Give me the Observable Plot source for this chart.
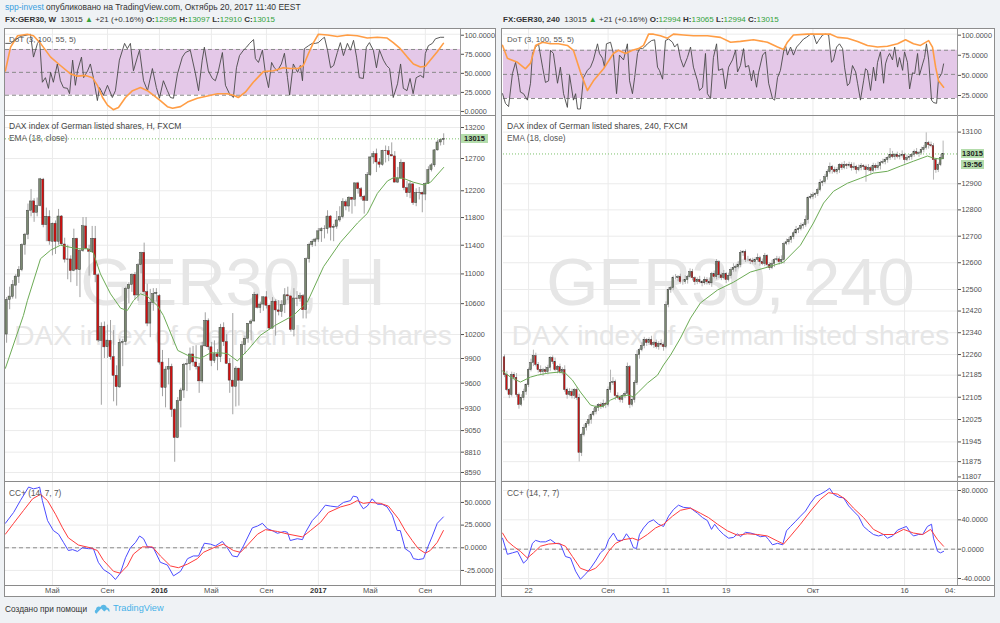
<!DOCTYPE html>
<html lang="ru">
<head>
<meta charset="utf-8">
<script src="https://cdn.jsdelivr.net/npm/d3@7"></script>
<script src="https://cdn.jsdelivr.net/npm/@observablehq/plot@0.6"></script>
<style>
html,body{margin:0;padding:0}
body{width:1000px;height:623px;overflow:hidden;position:relative;background:#eff2f5;font-family:"Liberation Sans",Arial,sans-serif;color:#333}
.t{position:absolute;white-space:nowrap}
.chart{position:absolute;top:28px;height:569px;background:#fff;border:1px solid #8d8d8d;box-sizing:border-box}
.pn{position:absolute;left:0;overflow:hidden}
.pn svg{max-width:none !important}
.sep{position:absolute;left:0;height:1px;background:#8a8a8a}
.vsep{position:absolute;top:0;width:1px;height:556px;background:#9a9a9a}
.lbl{position:absolute;font-size:8px;color:#555;white-space:nowrap}
.pbox{position:absolute;height:9px;line-height:9px;font-size:7.5px;font-weight:bold;color:#222;background:#b3dcab;text-align:center}
.g{color:#34a23a}
</style>
</head>
<body>
<div class="t" style="left:5px;top:2px;font-size:8.5px"><span style="color:#3a9fe0">spp-invest</span> опубликовано на TradingView.com, Октябрь 20, 2017 11:40 EEST</div>
<div class="t" style="left:5px;top:15px;font-size:8px"><b>FX:GER30, W</b>&nbsp; 13015 <span class="g">▲</span> +21 (+0.16%) <b>O:</b><span class="g">12995</span> <b>H:</b><span class="g">13097</span> <b>L:</b><span class="g">12910</span> <b>C:</b><span class="g">13015</span></div>
<div class="t" style="left:503px;top:15px;font-size:8px"><b>FX:GER30, 240</b>&nbsp; 13015 <span class="g">▲</span> +21 (+0.16%) <b>O:</b><span class="g">12994</span> <b>H:</b><span class="g">13065</span> <b>L:</b><span class="g">12994</span> <b>C:</b><span class="g">13015</span></div>
<div id="L" class="chart" style="left:4px;width:492px"></div>
<div id="R" class="chart" style="left:501px;width:494px"></div>
<div class="t" style="left:5px;top:604px;font-size:8.3px;color:#333">Создано при помощи</div>
<svg class="t" style="left:94px;top:603px" width="16" height="11" viewBox="0 0 16 11"><path d="M3 10.5C0.6 10.5 0 7.4 2.1 6.4C1.9 3.6 5 2.6 6.5 4.1C7.6 1 12.2 1 12.7 4.6C15.1 4.7 16.2 7.3 15.2 9L13 6.3L10.2 8.6L7.2 5.4L3.4 9.6Z" fill="#5ab8e6"/></svg>
<div class="t" style="left:113px;top:603px;font-size:9.2px;color:#45b1e8">TradingView</div>
<script>
// ---------- weekly (left) candles, week 0 = 19 Jan 2015 ----------
const wO = [10200,10650,10690,10840,10960,11050,11400,11550,11900,12040,
11870,11970,12370,11690,11810,11450,11710,11450,11815,11410,
11200,11200,11040,11490,11050,11316,11670,11340,11300,11490,
10980,10120,10300,10040,10120,9916,9690,9550,10096,10104,
10795,10850,10988,10708,11120,11293,10752,10340,10608,10728,
10700,9850,9545,9764,9798,9286,8967,9388,9513,9824,
9831,9950,9851,9794,9622,10051,10373,10039,9870,9952,
9917,10287,10103,9834,9631,9557,9776,9630,10066,10147,
10337,10367,10713,10544,10588,10684,10573,10276,10626,10511,
10491,10580,10711,10696,10259,10668,10664,10700,10513,11203,
11404,11450,11481,11599,11629,11630,11814,11651,11666,11757,
11804,12027,11963,12095,12064,12313,12225,12109,12049,12438,
12717,12770,12638,12602,12823,12816,12752,12733,12325,12389,
12632,12240,12163,12298,12014,12165,12168,12143,12304,12519,
12592,12829,12956,12995];
const wH = [10680,10820,10910,10990,11100,11420,11570,12000,12220,12080,
12090,12390,12390,11940,11900,11720,11750,11920,11830,11500,
11400,11250,11630,11500,11340,11800,11800,11400,11670,11670,
11000,10350,10360,10320,10380,10250,9810,10140,10140,10820,
10880,11000,11020,11140,11300,11430,10860,10790,10800,10800,
10720,10000,9800,9900,9830,9300,9430,9540,9840,9890,
10030,10050,10060,9840,10100,10480,10400,10100,10120,10010,
10330,10350,10200,9900,10470,9800,9780,10110,10180,10340,
10390,10750,10730,10620,10690,10760,10580,10680,10650,10640,
10640,10800,10820,10700,10800,10760,10740,10720,11220,11430,
11480,11500,11640,11650,11680,11900,11830,11700,11890,11960,
12080,12060,12110,12100,12320,12330,12250,12130,12480,12730,
12810,12850,12700,12830,12900,12890,12950,12810,12560,12680,
12640,12340,12350,12310,12230,12250,12180,12320,12570,12620,
12840,12990,13000,13097];
const wL = [10090,10520,10660,10660,10870,11030,11260,11480,11810,11730,
11810,11960,11650,11450,11400,11250,11270,11400,11390,11150,
10920,10880,11030,10830,10680,11300,11340,10970,11290,10880,
10100,9340,9900,9900,9880,9380,9330,9540,9800,10060,
10600,10750,10650,10630,11000,10720,10300,10160,10500,10620,
9820,9440,9310,9580,9200,8700,8960,9080,9420,9500,
9750,9800,9760,9480,9600,10040,10000,9800,9840,9750,
9850,10050,9830,9480,9230,9320,9330,9620,9950,10090,
10120,10360,10530,10470,10500,10530,10260,10270,10180,10440,
10420,10470,10640,10230,10170,10560,10620,10400,10400,11150,
11370,11380,11440,11440,11490,11560,11460,11450,11630,11730,
11780,11900,11880,11850,11960,12150,12060,11850,12040,12420,
12610,12480,12550,12580,12630,12650,12730,12320,12310,12380,
12200,12100,12080,11980,11960,12060,11870,12050,12300,12490,
12560,12820,12900,12910];
const wC = [10649,10694,10846,10963,11050,11402,11551,11901,12039,11868,
11967,12375,11689,11811,11454,11709,11447,11815,11413,11197,
11197,11040,11492,11058,11316,11673,11347,11308,11490,10985,
10124,10298,10038,10123,9916,9688,9553,10096,10104,10795,
10850,10988,10708,11119,11293,10752,10340,10608,10728,10743,
9849,9545,9764,9798,9286,8967,9388,9513,9824,9831,
9950,9851,9794,9622,10051,10373,10039,9870,9952,9917,
10287,10103,9834,9631,9557,9776,9630,10066,10147,10337,
10367,10713,10544,10588,10684,10573,10276,10626,10511,10491,
10580,10711,10696,10259,10668,10664,10700,10513,11203,11404,
11450,11481,11599,11629,11630,11814,11651,11666,11757,11804,
12027,11963,12095,12064,12313,12225,12109,12049,12438,12717,
12770,12638,12602,12823,12816,12752,12733,12325,12389,12632,
12240,12163,12298,12014,12165,12168,12143,12304,12519,12592,
12829,12956,12992,13015];
// EMA(18): [week, value]
const emaWk = [[-0.4,9780],[5.5,10445],[6.8,10640],[11.1,11210],[14.4,11330],[17.6,11400],[23.2,11350],[26.5,11350],[28.4,11290],[30.7,11000],[34,10730],[37.3,10540],[39.5,10510],[41.5,10640],[43.8,10730],[46,10700],[49.4,10570],[51.3,10445],[56,10000],[59.2,9940],[63.4,9900],[66.7,9970],[70,9970],[72.3,9960],[75.5,9870],[78.8,10000],[83,10190],[88,10320],[93.8,10445],[98.4,10620],[103.7,11100],[109.2,11440],[114.8,11720],[118,11860],[121.3,12160],[124.6,12350],[126.6,12400],[129.8,12390],[133.1,12330],[136.4,12290],[138.7,12330],[143,12560]];
// DoT (3,100,55,5): [week, value]
const dotWk = [[-0.3,88],[1.3,88],[4.5,97],[7.8,100],[8.8,70],[10.1,88],[10.8,92],[11.7,37],[12.7,43],[13.7,29],[14.4,50],[15.3,37],[16.6,61],[17.6,39],[18.6,30],[19.9,29],[20.6,22],[21.6,66],[22.5,33],[23.2,52],[24.5,70],[25.2,43],[26.5,52],[27.4,61],[28.4,43],[29.7,13],[30.4,30],[31.7,20],[33,33],[34.6,17],[35.6,26],[36.9,66],[38.6,88],[39.5,81],[40.5,88],[41.5,52],[42.8,70],[43.5,79],[44.8,39],[46.1,26],[47.7,55],[49,30],[50,16],[51.3,39],[52.6,26],[53.6,17],[54.6,16],[55.9,48],[57.5,70],[58.5,76],[60.1,79],[61.8,48],[62.8,26],[64,66],[64.7,83],[66,52],[67.3,42],[68.3,39],[69.3,52],[70.6,76],[71.6,33],[72.9,22],[74.2,17],[75.2,56],[76.2,72],[77.5,79],[78.5,83],[79.5,88],[80.8,93],[81.4,68],[82.4,63],[83.7,79],[84.7,48],[85.7,30],[86.7,63],[87.6,56],[88.6,52],[89.9,61],[90.9,75],[91.9,43],[92.6,20],[93.8,61],[95.2,50],[96.1,59],[96.8,39],[97.4,81],[98.8,85],[100,88],[101,88],[102,89],[103.3,94],[104,96],[105,79],[106,56],[107,59],[108.2,76],[109.2,89],[110.2,72],[111.5,88],[112.5,79],[113.5,92],[114.5,70],[115.4,43],[116.7,42],[117.7,83],[118.7,89],[120,79],[121,56],[122,79],[123.3,66],[124.3,59],[125.3,55],[126.5,17],[127.9,35],[128.9,61],[129.8,29],[131,26],[132,42],[133,22],[134,43],[135.4,46],[136.4,43],[137,75],[138,85],[139.3,88],[140.3,94],[141.9,96],[143,96]];
const dotWkSig = [[-0.4,52],[1.3,83],[3.6,98],[6.8,100],[8.8,98],[11.1,88],[14.4,70],[17.6,59],[20.9,48],[23.2,45],[25.8,46],[28.1,43],[29.7,33],[31.4,17],[33,7],[34.9,1],[36.6,4],[38.9,17],[41.2,26],[43.8,30],[46.1,26],[48,20],[50.3,13],[52.6,5],[54.3,3],[56.9,5],[59.2,11],[62.4,16],[65.7,19],[69,22],[72.2,22],[74.2,20],[75.8,17],[78.1,24],[80.7,37],[84,51],[87.3,52],[90.5,56],[92.8,55],[95.4,55],[97.1,59],[98.8,75],[100.4,89],[102,100],[105,99],[108.2,97],[111.5,99],[114.7,98],[118,95],[121.3,96],[124.5,95],[126.5,89],[128.8,81],[131.1,70],[133.1,61],[135.4,57],[137,58],[138.6,66],[140.9,77],[142.9,88]];
// CC+ (14,7,7): [week, value]
const ccWkFast = [[-0.4,27],[2.3,39],[4.5,52],[7.2,67],[8.8,65],[10.1,66],[10.8,67],[11.7,52],[13.4,30],[15.3,19],[17,15],[18.6,6],[20.2,-3],[21.6,-2],[23.2,-4],[24.8,0],[26.8,-1],[28.4,-1],[30,-16],[31.7,-24],[34,-29],[35.6,-35],[37.2,-28],[38.9,-11],[40.5,0],[42.2,6],[43.5,13],[44.8,10],[46.1,1],[48,0],[50.3,-16],[52.6,-19],[54.6,-31],[56.9,-26],[59.2,-12],[61.1,-9],[62.8,-9],[64.7,5],[66.7,4],[68.3,2],[70.6,7],[72.2,0],[73.9,-9],[75.5,-10],[77.5,2],[80.4,22],[82.1,24],[83.7,27],[85.3,21],[86.9,19],[88.6,16],[90.9,18],[91.9,17],[92.8,8],[95.1,10],[96.8,9],[97.8,17],[100,30],[102,37],[104.3,47],[105.9,46],[108.2,45],[110.2,50],[112.5,52],[113.4,57],[114.7,56],[115.7,48],[116.7,43],[118,46],[119.6,54],[121.3,48],[122.9,48],[124.5,45],[126.2,36],[127.8,19],[128.8,19],[130.4,-1],[132.1,-5],[133.1,-12],[134.7,-13],[136.4,-12],[137.7,0],[139.3,13],[140.9,27],[142.9,34]];
const ccWkSlow = [[-0.4,15],[2.3,27],[5.5,41],[8.5,54],[11.1,59],[13.4,52],[16,37],[18.3,22],[20.2,11],[23.5,3],[27.4,0],[29.7,-3],[31.7,-14],[35,-26],[37.2,-28],[39.5,-20],[41.5,-7],[44.4,1],[47.7,1],[50.3,-9],[53.6,-20],[56.2,-22],[59.2,-18],[62.4,-12],[64.4,-5],[67.7,0],[70.9,4],[74.2,-3],[76.5,-5],[79.1,4],[82.1,15],[84.7,20],[88.6,18],[92.2,15],[96.8,12],[99.4,19],[102.7,28],[105.3,39],[109.2,45],[112.5,48],[114.7,52],[116.7,49],[119,50],[122.3,49],[124.9,46],[128.2,32],[130.4,19],[132.7,8],[134.7,-1],[137,-6],[138.6,-3],[140.9,6],[142.9,19]];
const wkTicks = [15,33,50,67,85,102,119,137];
const wkTickText = ["Май","Сен","2016","Май","Сен","2017","Май","Сен"];
const wkTickBold = [false,false,true,false,false,true,false,false];
const wkPriceTicks = [8590,8810,9050,9300,9600,9900,10200,10600,11000,11400,11800,12200,12700,13200];

// ---------- 240-minute (right) candles, bar 0 = 17 Aug 2017 late session ----------
const hO = [12250,12185,12131,12113,12185,12175,12113,12077,12102,12124,
12149,12203,12229,12254,12222,12203,12196,12203,12196,12211,
12247,12233,12203,12214,12196,12203,12131,12113,12124,12109,
12131,12102,11906,11970,11995,12009,12023,12041,12052,12066,
12077,12070,12081,12077,12131,12156,12160,12109,12102,12095,
12109,12117,12214,12077,12095,12156,12258,12276,12291,12313,
12302,12313,12295,12302,12287,12298,12295,12287,12442,12498,
12505,12542,12542,12546,12527,12527,12535,12546,12565,12542,
12527,12535,12527,12523,12535,12527,12523,12557,12546,12602,
12553,12542,12557,12535,12550,12572,12580,12583,12591,12636,
12640,12610,12610,12606,12602,12610,12617,12602,12595,12625,
12591,12580,12595,12610,12613,12602,12610,12670,12677,12685,
12696,12711,12723,12727,12738,12742,12761,12845,12849,12856,
12860,12875,12902,12906,12925,12945,12964,12952,12945,12952,
12972,12960,12972,12968,12972,12960,12964,12952,12960,12968,
12964,12952,12960,12949,12968,12960,12968,12980,12983,12991,
12999,13011,13003,13011,13003,13007,13011,12991,12999,13003,
13011,13022,13015,13018,13030,13038,13057,13049,13045,12991,
12952,12972,12994];
const hH = [12258,12199,12137,12196,12194,12191,12120,12114,12134,12154,
12211,12243,12276,12265,12231,12219,12210,12215,12221,12252,
12255,12247,12220,12225,12212,12219,12138,12136,12134,12136,
12139,12116,11976,12006,12018,12039,12048,12064,12076,12082,
12085,12095,12087,12142,12203,12176,12167,12121,12112,12114,
12125,12229,12220,12106,12165,12274,12283,12303,12323,12318,
12321,12327,12308,12313,12307,12314,12302,12454,12508,12510,
12550,12556,12552,12557,12536,12551,12553,12577,12575,12547,
12543,12549,12533,12546,12544,12543,12564,12569,12612,12607,
12561,12571,12563,12561,12581,12596,12590,12603,12646,12645,
12648,12624,12616,12617,12619,12633,12624,12614,12635,12630,
12599,12609,12616,12624,12622,12626,12677,12689,12695,12701,
12719,12737,12733,12749,12751,12777,12852,12861,12866,12865,
12883,12916,12912,12936,12954,12980,12971,12964,12962,12977,
12980,12986,12978,12983,12981,12980,12971,12972,12978,12973,
12972,12974,12966,12979,12977,12984,12987,12995,13001,13004,
13036,13025,13017,13022,13016,13027,13018,13011,13013,13016,
13030,13036,13024,13041,13047,13097,13064,13061,13055,12996,
12980,13013,13065];
const hL = [12176,12125,12100,12106,12164,12105,12062,12071,12092,12112,
12140,12197,12216,12215,12192,12188,12181,12190,12186,12199,
12224,12197,12190,12189,12185,12123,12098,12107,12099,12097,
12093,11874,11893,11963,11984,12001,12008,12035,12042,12054,
12061,12064,12064,12070,12120,12148,12094,12096,12085,12083,
12100,12111,12064,12070,12084,12148,12243,12270,12281,12290,
12293,12289,12282,12280,12276,12287,12272,12281,12432,12486,
12496,12536,12529,12520,12516,12519,12520,12540,12532,12515,
12518,12521,12510,12516,12516,12515,12508,12540,12536,12541,
12533,12536,12522,12528,12539,12564,12565,12577,12581,12624,
12601,12604,12593,12595,12591,12602,12587,12589,12585,12579,
12571,12574,12582,12603,12591,12594,12595,12664,12667,12673,
12687,12705,12710,12720,12727,12734,12746,12839,12839,12844,
12851,12869,12889,12899,12914,12937,12937,12939,12935,12940,
12951,12954,12955,12961,12949,12952,12937,12946,12950,12952,
12906,12946,12936,12942,12949,12952,12953,12974,12973,12979,
12990,12997,12990,12996,12992,12999,12976,12985,12989,12991,
13002,13009,13002,13011,13019,13030,13034,13039,12914,12940,
12943,12966,12994];
const hC = [12185,12131,12113,12185,12175,12113,12077,12102,12124,12149,
12203,12229,12254,12222,12203,12196,12203,12196,12211,12247,
12233,12203,12214,12196,12203,12131,12113,12124,12109,12131,
12102,11906,11970,11995,12009,12023,12041,12052,12066,12077,
12070,12081,12077,12131,12156,12160,12109,12102,12095,12109,
12117,12214,12077,12095,12156,12258,12276,12291,12313,12302,
12313,12295,12302,12287,12298,12295,12287,12442,12498,12505,
12542,12542,12546,12527,12527,12535,12546,12565,12542,12527,
12535,12527,12523,12535,12527,12523,12557,12546,12602,12553,
12542,12557,12535,12550,12572,12580,12583,12591,12636,12640,
12610,12610,12606,12602,12610,12617,12602,12595,12625,12591,
12580,12595,12610,12613,12602,12610,12670,12677,12685,12696,
12711,12723,12727,12738,12742,12761,12845,12849,12856,12860,
12875,12902,12906,12925,12945,12964,12952,12945,12952,12972,
12960,12972,12968,12972,12960,12964,12952,12960,12968,12964,
12952,12960,12949,12968,12960,12968,12980,12983,12991,12999,
13011,13003,13011,13003,13007,13011,12991,12999,13003,13011,
13022,13015,13018,13030,13038,13057,13049,13045,12991,12952,
12972,12999,13015];
const emaH = [[-0.8,12200],[2.5,12178],[6.6,12160],[10.8,12178],[13.7,12185],[17.8,12192],[22.4,12196],[25.3,12192],[28.2,12167],[31.5,12124],[35.7,12077],[38.6,12070],[41.1,12073],[44,12095],[46.9,12106],[51.5,12113],[53.5,12106],[55.6,12124],[59.3,12156],[63.5,12185],[66,12222],[68.9,12258],[73,12320],[77.2,12394],[81.3,12450],[88.4,12498],[95,12527],[102,12565],[109,12583],[115.8,12602],[122.8,12666],[128.2,12750],[132.4,12826],[136.5,12871],[142.3,12902],[147.7,12921],[153.1,12941],[158.9,12948],[164.3,12968],[169.7,12987],[175.5,13007],[178,12999],[180.9,12995],[182,12999]];
const dotH = [[-0.8,26],[0.4,14],[1.7,10],[3.3,51],[4.6,65],[5.8,46],[6.6,28],[7.9,26],[9.5,18],[10.8,39],[11.6,76],[12.9,84],[14.1,88],[15.8,59],[17,40],[18.3,42],[19.1,80],[20.3,76],[22,39],[23.2,59],[24.5,26],[26.1,9],[27,49],[28.6,18],[29.5,26],[30.3,7],[31.5,7],[32.8,46],[34.4,55],[35.7,59],[36.9,68],[38.6,88],[39.4,76],[40.7,70],[41.5,59],[42.3,88],[44,90],[45.2,76],[46.5,26],[47.7,74],[49.4,68],[51,88],[51.9,42],[53.1,26],[54,46],[55.2,76],[56,82],[57.3,82],[58.1,84],[59.3,88],[61,92],[62.3,93],[63.5,59],[64.3,55],[65.6,44],[66.8,92],[68.1,94],[69.7,90],[70.6,84],[71.8,88],[73,70],[74.3,59],[75.9,71],[77.2,84],[78.4,59],[80.1,42],[80.9,30],[82.2,34],[83.4,76],[84.2,26],[85.5,20],[86.7,71],[88,88],[88.8,55],[90.5,57],[91.7,32],[93,59],[94.6,68],[95.9,80],[96.7,53],[97.9,61],[99.2,82],[100,59],[101.3,61],[102.5,42],[103.3,55],[104.6,34],[105.4,52],[107.1,74],[108.3,78],[109.6,39],[111.2,20],[112.1,18],[113.3,46],[114.5,55],[115.8,78],[116.6,86],[117.4,74],[118.7,84],[119.9,74],[121.2,84],[122.4,88],[124.1,94],[125.3,96],[127,100],[128.2,100],[129.5,88],[130.3,92],[132,99],[133.2,100],[134.5,99],[135.7,65],[136.5,68],[137.8,84],[139,88],[140.3,82],[141.1,59],[142.3,36],[143.2,39],[144.4,61],[145.7,53],[146.5,39],[147.7,18],[149,42],[149.8,57],[150.6,55],[151.9,30],[153.1,59],[154,42],[154.8,65],[156,78],[157.3,39],[158.1,63],[158.9,71],[159.8,76],[161,68],[161.9,84],[163.1,59],[163.9,71],[165.2,55],[166,78],[167.2,65],[168.1,32],[169.3,52],[170.2,51],[171.4,76],[172.2,49],[173.5,63],[174.3,71],[175.1,88],[176,68],[177.2,18],[178,15],[179.3,14],[180.1,45],[181.4,51],[182.2,63]];
const dotHSig = [[-0.8,86],[1.2,70],[5.4,65],[8.7,57],[10.8,64],[12.9,86],[15.8,90],[19.1,88],[22.4,88],[26.1,86],[28.6,80],[31.5,53],[34.4,30],[36.9,42],[41.1,57],[45.2,76],[47.3,80],[50.2,76],[53.1,80],[55.6,82],[57.7,86],[59.8,100],[61.8,100],[64.7,98],[67.6,95],[70.1,100],[74.3,99],[78.4,98],[84.2,98],[89.6,96],[93.8,90],[97.9,91],[103.3,93],[109.1,90],[113.3,84],[115.8,81],[117.4,90],[119.9,99],[125.7,100],[131.1,100],[135.3,100],[138.2,96],[142.3,95],[146.5,91],[150.6,86],[154.8,84],[158.9,85],[163.1,88],[166.4,93],[169.7,88],[172.6,86],[176,92],[177.6,84],[178.9,59],[180.1,42],[182.2,34]];
const ccHFast = [[-0.8,15],[1.2,-7],[3.3,-5],[5.4,-3],[7.9,-19],[9.5,-14],[11.6,8],[12.9,12],[14.9,10],[17,10],[19.1,13],[21.2,8],[23.2,7],[25.3,-10],[27.4,-12],[29.5,-30],[31.5,-41],[33.6,-34],[35.7,-26],[37.8,-16],[39.8,-5],[41.9,1],[43.2,13],[45.2,22],[46.9,12],[49,12],[50.6,21],[51.9,15],[53.5,2],[54.8,1],[56,20],[57.7,29],[59.8,37],[61.8,40],[63.9,34],[66,31],[68.1,45],[70.1,54],[72.2,60],[74.3,57],[77.2,56],[80.1,49],[82.2,43],[84.2,39],[85.9,27],[87.2,34],[88.8,27],[90.9,20],[93,15],[95,16],[96.7,21],[97.9,17],[100,23],[102.1,22],[104.2,20],[106.2,17],[108.3,18],[109.6,13],[111.2,6],[113.3,8],[115.4,6],[117,25],[118.7,31],[120.8,38],[122.8,45],[124.9,52],[127,63],[129.1,72],[131.1,75],[133.2,79],[134.9,83],[136.5,75],[138.6,71],[140.7,70],[142.8,59],[144.8,52],[146.9,45],[149,31],[151.1,25],[153.1,20],[155.2,18],[157.3,20],[158.9,15],[161,18],[163.1,26],[165.2,29],[166.8,31],[168.5,22],[169.7,18],[171.8,20],[173.5,20],[175.5,31],[177.2,34],[178,15],[179.7,-3],[180.9,-5],[182.2,-3]];
const ccHSlow = [[-0.8,22],[1.2,11],[3.7,4],[6.6,-3],[9.5,-12],[12,-5],[14.9,4],[18.3,7],[22.4,8],[25.3,4],[28.2,-10],[31.5,-26],[34.9,-30],[37.8,-26],[40.7,-16],[43.2,-3],[46.1,8],[49.4,13],[53.1,15],[55.6,12],[59.3,20],[62.7,29],[66,34],[69.7,45],[73,53],[77.2,56],[81.3,49],[84.7,43],[88.4,34],[92.5,25],[96.7,19],[100.8,21],[105,20],[109.1,18],[113.3,11],[115.8,7],[118.7,18],[122.8,34],[127,52],[131.1,68],[134.5,77],[138.2,75],[141.5,68],[144.8,56],[149,43],[153.1,27],[157.3,20],[161.4,20],[165.6,27],[169.7,22],[173.5,20],[176.8,27],[179.7,13],[182.2,4]];
const hTicks = [10,43,67,92,128,166,185];
const hTickText = ["22","Сен","11","19","Окт","16","04:"];
const hTickBold = [false,false,false,false,false,false,false];
const hPriceTicks = [11875,11945,12025,12105,12185,12260,12340,12420,12500,12600,12700,12800,12900,13100];
const hEdgeTicks = [11807];

const dotBand = [[20, 80]];
const dotLevels = [20, 50, 80];
const dotTicksL = [0, 25, 50, 75, 100];
const dotTicksR = [25, 50, 75, 100];
const ccTicksL = [-25, 0, 25, 50];
const ccTicksR = [-40, 0, 40, 80];
const lastPrice = 13015;
const countdown = "19:56";

// ---------- drawing ----------
const FONT = '"Liberation Sans", Arial, Helvetica, sans-serif';
const col = {up:"#7b8a72", down:"#d0100f", edge:"#3a3a3a", wick:"#a2a2a2", ema:"#6cab55",
  dot:"#484848", sig:"#ff9d45", fast:"#4b4bff", slow:"#ff3c3c", grid:"#ebebeb",
  band:"#e4c8e8", lvl:"#8a8a8a", wm:"#e6e6e6"};

function panel(host, top, h, w, ml, mr, xd, ytype, yd, marks, clipW) {
  const div = document.createElement("div");
  div.className = "pn";
  div.style.top = top + "px";
  div.style.height = h + "px";
  div.style.width = (clipW || w) + "px";
  const fig = Plot.plot({
    width: w, height: h, marginTop: 0, marginBottom: 0, marginLeft: ml, marginRight: mr,
    x: {domain: xd, axis: null},
    y: {type: ytype, domain: yd, axis: null},
    style: {background: "transparent", color: "#505050", fontSize: "7.3px", fontFamily: FONT, overflow: "visible", maxWidth: "none"},
    marks
  });
  div.appendChild(fig);
  host.appendChild(div);
  return fig;
}
const yAxis = (ticks, fmt, dy) => Plot.axisY(ticks, {anchor: "right", tickSize: 3, tickPadding: 1, tickFormat: fmt, dy: dy || 0});
const f4 = d => d.toFixed(4);
const px = d => d[0], py = d => d[1];

function build(host, w, ml, mr, xd, o) {
  const xt = o.ticks.slice(0, o.gridN);
  // DoT
  panel(host, 0, 86, w, ml, mr, xd, "linear", o.dotDom, [
    Plot.gridY(o.dotTicks, {stroke: col.grid, strokeOpacity: 1}),
    Plot.gridX(xt, {stroke: col.grid, strokeOpacity: 1}),
    Plot.rect(dotBand, {x1: () => xd[0], x2: () => xd[1], y1: d => d[0], y2: d => d[1], fill: col.band}),
    Plot.ruleY(dotLevels, {stroke: col.lvl, strokeDasharray: "4,3"}),
    Plot.line(o.dot, {x: px, y: py, stroke: col.dot, strokeWidth: 0.9}),
    Plot.line(o.sig, {x: px, y: py, stroke: col.sig, strokeWidth: 1.6}),
    yAxis(o.dotTicks, f4, o.dotDy)
  ]);
  // price
  const bars = o.C.map((c, i) => ({i, o: o.O[i], h: o.H[i], l: o.L[i], c}));
  const priceMarks = [
    Plot.gridY(o.priceTicks.concat(o.edgeTicks), {stroke: col.grid, strokeOpacity: 1}),
    Plot.gridX(xt, {stroke: col.grid, strokeOpacity: 1}),
    Plot.text([o.wm], {text: d => d, frameAnchor: "middle", fontSize: 67, fill: col.wm, dy: -15}),
    Plot.text([o.wmSub], {text: d => d, frameAnchor: "middle", fontSize: 28, fill: col.wm, dy: 38}),
    Plot.ruleY([lastPrice], {stroke: "#7cc16b", strokeDasharray: "1,2"}),
    Plot.ruleX(bars, {x: "i", y1: "l", y2: "h", stroke: col.wick, strokeWidth: o.wickW}),
    Plot.rect(bars, {x1: d => d.i - o.half, x2: d => d.i + o.half, y1: "o", y2: "c",
      fill: d => d.c >= d.o ? col.up : col.down, stroke: col.edge, strokeWidth: 0.45}),
    Plot.line(o.ema, {x: px, y: py, stroke: col.ema, strokeWidth: 1}),
    yAxis(o.priceTicks, d => String(d))
  ];
  if (o.edgeTicks.length) priceMarks.push(yAxis(o.edgeTicks, d => String(d), -4));
  const fig = panel(host, 86, 366, w, ml, mr, xd, "log", o.priceDom, priceMarks);
  // CC+
  panel(host, 453, 103, w, ml, mr, xd, "linear", o.ccDom, [
    Plot.gridY(o.ccTicks, {stroke: col.grid, strokeOpacity: 1}),
    Plot.gridX(xt, {stroke: col.grid, strokeOpacity: 1}),
    Plot.ruleY([0], {stroke: col.lvl, strokeDasharray: "4,3"}),
    Plot.line(o.fast, {x: px, y: py, stroke: col.fast, strokeWidth: 1}),
    Plot.line(o.slow, {x: px, y: py, stroke: col.slow, strokeWidth: 1}),
    yAxis(o.ccTicks, f4)
  ]);
  // time axis
  const idx = o.ticks.map((_, i) => i);
  panel(host, 556, 11, w, ml, mr, xd, "linear", [0, 1], [
    Plot.text(idx.filter(i => !o.bold[i]), {x: i => o.ticks[i], text: i => o.labels[i], frameAnchor: "middle", fontSize: 7.5, fill: "#505050"}),
    Plot.text(idx.filter(i => o.bold[i]), {x: i => o.ticks[i], text: i => o.labels[i], frameAnchor: "middle", fontSize: 7.5, fontWeight: "bold", fill: "#333"})
  ], w - mr);
  // chrome: separators
  for (const t of [86, 452, 556]) {
    const s = document.createElement("div"); s.className = "sep";
    s.style.top = t + "px"; s.style.width = w + "px"; host.appendChild(s);
  }
  const v = document.createElement("div"); v.className = "vsep";
  v.style.left = (w - mr) + "px"; host.appendChild(v);
  // titles
  const titles = [[6, o.dotTitle, 8], [92, o.priceTitle, 8.5], [104, "EMA (18, close)", 8.3], [459, "CC+ (14, 7, 7)", 8.3]];
  for (const [t, s, fs] of titles) {
    const d = document.createElement("div"); d.className = "lbl";
    d.style.left = (ml + 4) + "px"; d.style.top = t + "px"; d.style.fontSize = fs + "px";
    if (t === 92) d.style.color = "#444";
    d.textContent = s; host.appendChild(d);
  }
  // last-price tags positioned through the y scale
  const yy = fig.scale("y").apply(lastPrice);
  const tags = [String(lastPrice)].concat(o.extraTag ? [o.extraTag] : []);
  tags.forEach((s, k) => {
    const b = document.createElement("div"); b.className = "pbox";
    b.style.left = (w - mr + o.tagDx) + "px"; b.style.width = o.tagW + "px";
    b.style.top = (86 + yy - 4.5 + k * 11) + "px";
    b.textContent = s; host.appendChild(b);
  });
}

build(document.getElementById("L"), 490, 0, 35, [-0.36, 148.5], {
  O: wO, H: wH, L: wL, C: wC, ema: emaWk, dot: dotWk, sig: dotWkSig, fast: ccWkFast, slow: ccWkSlow,
  ticks: wkTicks, labels: wkTickText, bold: wkTickBold, gridN: wkTicks.length,
  priceTicks: wkPriceTicks, edgeTicks: [], priceDom: [8494, 13399], dotTicks: dotTicksL, dotDom: [-6.6, 106.2], dotDy: 1,
  ccTicks: ccTicksL, ccDom: [-41.6, 72], half: 0.36, wickW: 1,
  wm: "GER30, H", wmSub: "DAX index of German listed shares",
  dotTitle: "DoT (3, 100, 55, 5)", priceTitle: "DAX index of German listed shares, H, FXCM",
  tagDx: 1, tagW: 27, extraTag: null
});
build(document.getElementById("R"), 492, 1, 37, [-0.41, 187.97], {
  O: hO, H: hH, L: hL, C: hC, ema: emaH, dot: dotH, sig: dotHSig, fast: ccHFast, slow: ccHSlow,
  ticks: hTicks, labels: hTickText, bold: hTickBold, gridN: 6,
  priceTicks: hPriceTicks, edgeTicks: hEdgeTicks, priceDom: [11805, 13165], dotTicks: dotTicksR, dotDom: [-1.1, 105.8], dotDy: 1,
  ccTicks: ccTicksR, ccDom: [-49.5, 90.9], half: 0.33, wickW: 0.8,
  wm: "GER30, 240", wmSub: "DAX index of German listed shares",
  dotTitle: "DoT (3, 100, 55, 5)", priceTitle: "DAX index of German listed shares, 240, FXCM",
  tagDx: 4, tagW: 23, extraTag: countdown
});
</script>
</body>
</html>
